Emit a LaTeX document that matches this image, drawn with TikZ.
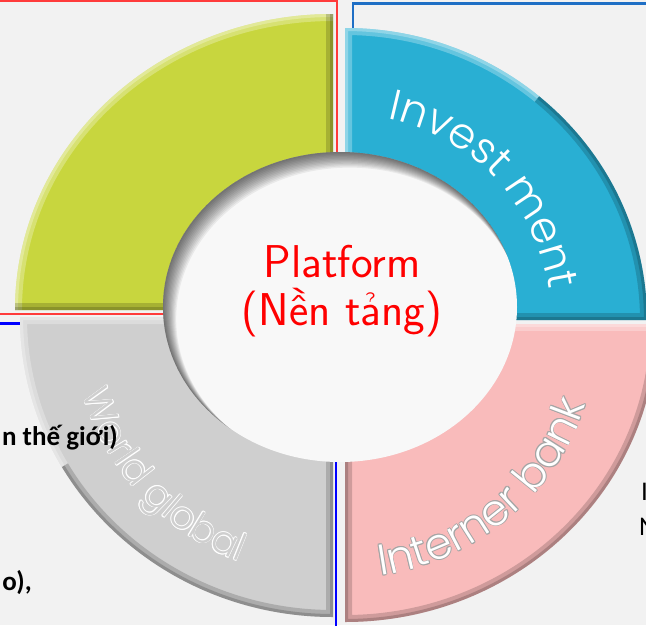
\documentclass[tikz,border=0pt]{standalone}
\usepackage{fontspec}
\IfFontExistsTF{Poppins Light}{\newfontfamily\segfont{Poppins Light}}{\newfontfamily\segfont{Poppins}}
\newfontfamily\calfont{Carlito}
\usetikzlibrary{decorations.text}
\definecolor{bgc}{HTML}{F2F2F2}
\definecolor{greenseg}{HTML}{C8D63E}
\definecolor{cyanseg}{HTML}{29AFD3}
\definecolor{pinkseg}{HTML}{F9BBBB}
\definecolor{grayseg}{HTML}{CFCFCF}
\definecolor{hubfill}{HTML}{F8F8F8}
\definecolor{redline}{HTML}{FF3B3B}
\definecolor{blueline}{HTML}{1F6FC5}
\definecolor{bluedeep}{HTML}{0000FF}
\definecolor{outlinegray}{HTML}{A5A5A5}
\begin{document}
\begin{tikzpicture}[x=1pt,y=-1pt,
  litedge/.style={draw=white, draw opacity=0.28},
  darkedge/.style={draw=black, draw opacity=0.17},
  blacktext/.style={inner sep=0pt, text=black, font=\calfont\bfseries\fontsize{27}{27}\selectfont},
  edgetext/.style={inner sep=0pt, text=black, font=\calfont\fontsize{27}{27}\selectfont},
  hubtext/.style={inner sep=0pt, text=red, font=\sffamily\fontsize{46}{46}\selectfont}]
\useasboundingbox (0,0) rectangle (646,625);
\clip (0,0) rectangle (646,625);
\fill[bgc] (0,0) rectangle (646,625);

% background frames
\draw[redline, line width=2] (-10,1) rectangle (337,314);
\draw[blueline, line width=2.2] (353,3.5) rectangle (660,335);
\draw[bluedeep, line width=2.5] (-10,323.5) rectangle (336,640);

% green segment (top left)
\begin{scope}
\clip (333,310) -- (333,14) arc[start angle=-90,end angle=-180,x radius=318,y radius=296] -- cycle;
\fill[greenseg] (0,0) rectangle (646,625);
\draw[litedge, line width=14] (333,14) arc[start angle=-90,end angle=-180,x radius=318,y radius=296];
\draw[litedge, line width=6] (333,14) arc[start angle=-90,end angle=-180,x radius=318,y radius=296];
\draw[darkedge, line width=14] (333,10) -- (333,310) -- (10,310);
\draw[darkedge, line width=6] (333,10) -- (333,310) -- (10,310);
\end{scope}

% cyan segment (top right)
\begin{scope}
\clip (345,320) -- (345,28) arc[start angle=-90,end angle=0,x radius=302,y radius=292] -- cycle;
\fill[cyanseg] (0,0) rectangle (660,625);
\draw[litedge, line width=14] (345,320) -- (345,28) arc[start angle=-90,end angle=-50,x radius=302,y radius=292];
\draw[litedge, line width=6] (345,320) -- (345,28) arc[start angle=-90,end angle=-50,x radius=302,y radius=292];
\draw[darkedge, line width=14] (345,320) ++(-50:302 and 292) arc[start angle=-50,end angle=0,x radius=302,y radius=292] -- (345,320);
\draw[darkedge, line width=6] (345,320) ++(-50:302 and 292) arc[start angle=-50,end angle=0,x radius=302,y radius=292] -- (345,320);
\end{scope}

% gray segment (bottom left)
\begin{scope}
\clip (333,317) -- (20,317) arc[start angle=180,end angle=90,x radius=313,y radius=300] -- cycle;
\fill[grayseg] (0,0) rectangle (646,640);
\draw[litedge, line width=14] (333,317) -- (20,317) arc[start angle=180,end angle=150,x radius=313,y radius=300];
\draw[litedge, line width=6] (333,317) -- (20,317) arc[start angle=180,end angle=150,x radius=313,y radius=300];
\draw[darkedge, line width=14] (333,317) ++(150:313 and 300) arc[start angle=150,end angle=90,x radius=313,y radius=300] -- (333,317);
\draw[darkedge, line width=6] (333,317) ++(150:313 and 300) arc[start angle=150,end angle=90,x radius=313,y radius=300] -- (333,317);
\end{scope}

% pink segment (bottom right)
\begin{scope}
\clip (345,324) -- (657,324) arc[start angle=0,end angle=90,x radius=312,y radius=298] -- cycle;
\fill[pinkseg] (0,0) rectangle (660,640);
\draw[litedge, line width=14] (345,324) -- (660,324);
\draw[litedge, line width=6] (345,324) -- (660,324);
\draw[darkedge, line width=14] (657,324) arc[start angle=0,end angle=90,x radius=312,y radius=298] -- (345,324);
\draw[darkedge, line width=6] (657,324) arc[start angle=0,end angle=90,x radius=312,y radius=298] -- (345,324);
\end{scope}

% hub with inner shadow
\begin{scope}
\clip (340,307) ellipse [x radius=177, y radius=155];
\fill[hubfill] (150,140) rectangle (530,470);
\foreach \i in {1,...,12}{
  \fill[black, opacity=0.06, even odd rule] (150,140) rectangle (530,470)
    ({340+0.8*\i},{307+1.0*\i}) ellipse [x radius={177-0.3*\i}, y radius={155-0.3*\i}];
}
\end{scope}

\node[hubtext, anchor=base] (hub1) at (342,277) {Platform};
\node[hubtext, anchor=base] (hub2) at (342,325) {(Nền tảng)};

% Invest ment
\path[decorate, decoration={text along path, text color=white,
  text={|\segfont\fontsize{43}{43}\selectfont|Invest ment}}]
  (345,320) ++(-78:206) arc[start angle=-78, end angle=10, radius=206];

% World global: white outline, gray fill
\foreach \dx/\dy in {0.7/0,-0.7/0,0/0.7,0/-0.7,0.5/0.5,-0.5/0.5,0.5/-0.5,-0.5/-0.5}{
  \path[shift={(\dx,\dy)}, decorate, decoration={text along path, text color=white,
    text={|\segfont\fontsize{38}{38}\selectfont|World global}}]
    (333,317) ++(163:262) arc[start angle=163, end angle=95, radius=262];
}
\path[decorate, decoration={text along path, text color=grayseg,
  text={|\segfont\fontsize{38}{38}\selectfont|World global}}]
  (333,317) ++(163:262) arc[start angle=163, end angle=95, radius=262];

% Interner bank: gray outline, white fill
\foreach \dx/\dy in {0.8/0,-0.8/0,0/0.8,0/-0.8,0.6/0.6,-0.6/0.6,0.6/-0.6,-0.6/-0.6}{
  \path[shift={(\dx,\dy)}, decorate, decoration={text along path, text color=outlinegray,
    text={|\segfont\fontsize{43}{43}\selectfont|Interner bank}}]
    (345,324) ++(82:254) arc[start angle=82, end angle=0, radius=254];
}
\path[decorate, decoration={text along path, text color=white,
  text={|\segfont\fontsize{43}{43}\selectfont|Interner bank}}]
  (345,324) ++(82:254) arc[start angle=82, end angle=0, radius=254];

% cut-off side texts
\node[blacktext, anchor=base east] (left1) at (118,445) {n thế giới)};
\node[blacktext, anchor=base east] (left2) at (32,590) {o),};
\node[edgetext, anchor=base west] (right1) at (641,500) {I};
\node[edgetext, anchor=base west] (right2) at (639,535) {N};
\end{tikzpicture}
\end{document}
